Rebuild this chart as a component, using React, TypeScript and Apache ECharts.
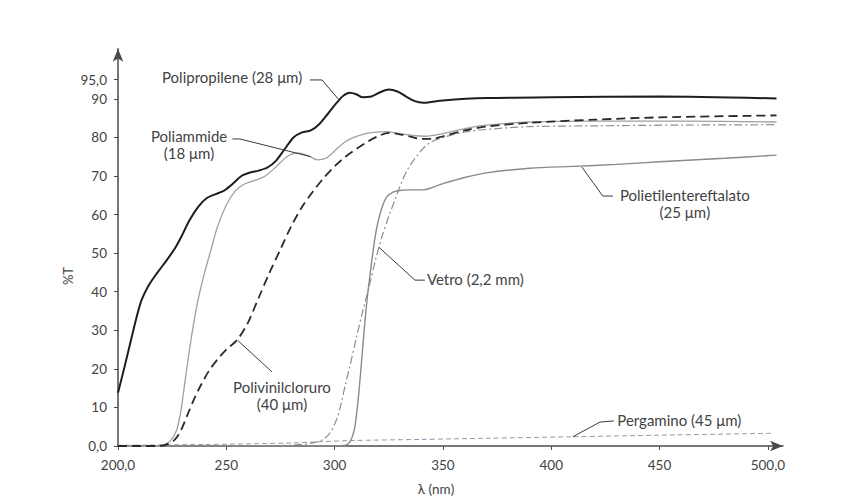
import React, { useEffect, useRef } from 'react';
import * as echarts from 'echarts';

const xTicks = [200, 250, 300, 350, 400, 450, 500];
const yTicks = [0, 10, 20, 30, 40, 50, 60, 70, 80, 90, 95];

const polipropilene = [
  [200, 13.8], [203, 20.5], [206, 27.5], [209, 34.3], [211, 38], [214, 41.5], [218, 44.8], [222, 47.8],
  [226, 51], [229, 54], [233, 58.5], [237, 62], [241, 64.3], [245, 65.3], [249, 66.2], [253, 68],
  [257, 70], [261, 70.9], [265, 71.4], [269, 72.2], [273, 74], [277, 77], [281, 80], [285, 81.3],
  [289, 81.8], [293, 83.5], [297, 86.2], [301, 89], [304, 90.8], [307, 91.6], [310, 91.2], [313, 90.4],
  [317, 90.6], [321, 91.7], [325, 92.4], [329, 91.9], [333, 90.6], [337, 89.4], [341, 89], [350, 89.6],
  [370, 90.2], [400, 90.4], [450, 90.6], [504, 90.1],
];

const poliammide = [
  [200, 0], [218, 0], [221, 0.3], [224, 1.2], [227, 4], [229, 9], [231, 17], [233, 25], [235, 32],
  [237, 38], [240, 45], [243, 51], [246, 57], [250, 62.5], [254, 66], [258, 67.8], [263, 68.8],
  [268, 70], [273, 72.4], [278, 75], [283, 76], [288, 75.2], [292, 74.2], [296, 74.6], [300, 76.5],
  [304, 78.5], [308, 79.8], [313, 80.8], [318, 81.3], [324, 81.5], [330, 81], [336, 80.5], [342, 80.3],
  [350, 81], [360, 82.3], [370, 83.2], [390, 84], [420, 84.2], [460, 84.2], [504, 84],
];

const polivinilcloruro = [
  [200, 0], [218, 0], [222, 0.3], [226, 1.5], [229, 4], [232, 8], [235, 12], [238, 15.5], [242, 19.5],
  [246, 22.5], [250, 25], [255, 27.5], [260, 32], [265, 38.5], [270, 45], [275, 51], [280, 57],
  [285, 62], [290, 66], [295, 69.5], [300, 72.5], [305, 75], [310, 77], [315, 78.8], [320, 80.3],
  [325, 81.2], [330, 80.8], [335, 80.2], [340, 79.6], [345, 79.6], [350, 80.3], [360, 81.8],
  [370, 82.8], [390, 83.8], [420, 84.6], [450, 85.2], [504, 85.7],
];

const vetro = [
  [200, 0], [260, 0], [280, 0.2], [290, 0.8], [295, 1.8], [298, 3.5], [301, 7], [303, 11], [305, 16],
  [307, 20.5], [310, 28], [313, 35], [316, 41.5], [319, 48.5], [322, 54.5], [325, 59.5], [328, 64],
  [331, 68.5], [334, 72], [338, 75.2], [342, 77.8], [346, 79.2], [350, 80], [360, 81.4], [375, 82.3],
  [390, 82.8], [420, 83], [460, 83.2], [504, 83.3],
];

const polietilentereftalato = [
  [200, 0], [300, 0], [305, 0.2], [307, 1], [309, 4], [310.5, 10], [312, 19], [313.5, 29], [315, 38],
  [316.5, 45], [318.5, 53.5], [320, 58], [322, 62], [324, 64.5], [327, 65.8], [331, 66.3], [336, 66.4],
  [341, 66.4], [345, 67], [350, 68], [360, 69.6], [370, 70.8], [390, 72], [410, 72.5], [430, 73],
  [450, 73.7], [480, 74.6], [504, 75.4],
];

const pergamino = [
  [200, 0.2], [240, 0.4], [280, 0.8], [307, 1.4], [340, 1.7], [370, 2.0], [410, 2.4], [450, 2.8], [502, 3.3],
];

const annotations = [
  { text: 'Polipropilene (28 μm)', at: [220.3, 95.7], align: 'left', callout: [[288.6, 94.9], [294.2, 94.9], [302.5, 89.4]] },
  { text: 'Poliammide\n(18 μm)', at: [232.8, 78.1], align: 'center', callout: [[252.8, 79.6], [256.3, 79.6], [289, 75]] },
  { text: 'Polivinilcloruro\n(40 μm)', at: [275.7, 13.1], align: 'center', callout: [[271.1, 19.2], [255.4, 27.3]] },
  { text: 'Vetro (2,2 mm)', at: [342.6, 43.4], align: 'left', callout: [[341.7, 43.0], [337.1, 43.0], [320.5, 51.5]] },
  { text: 'Polietilentereftalato\n(25 μm)', at: [461.7, 62.9], align: 'center', callout: [[414.2, 72.3], [423.8, 64.8], [428.5, 64.8]] },
  { text: 'Pergamino (45 μm)', at: [430.5, 6.7], align: 'left', callout: [[410, 2.4], [422.5, 6.2], [428.9, 6.5]] },
];

const FONT = 'Lato, "Noto Sans", "DejaVu Sans", sans-serif';
const TEXT_COLOR = '#434343';

export default function App() {
  const ref = useRef<HTMLDivElement>(null);
  useEffect(() => {
    const chart = echarts.init(ref.current!, null, { renderer: 'svg' });
    const lineSeries = (name: string, data: number[][], color: string, width: number, type: any, z: number) => ({
      name,
      type: 'line',
      data,
      showSymbol: false,
      smooth: 0.3,
      z,
      lineStyle: { color, width, type },
    });
    chart.setOption({
      animation: false,
      backgroundColor: '#ffffff',
      grid: { left: 118, right: 62, top: 48.7, bottom: 53 },
      xAxis: {
        type: 'value',
        min: 200,
        max: 507,
        axisLine: { show: true, symbol: ['none', 'arrow'], symbolSize: [8, 13], lineStyle: { color: '#4a4a4a', width: 1.5 } },
        axisTick: { show: true, customValues: xTicks, length: 4, lineStyle: { color: '#4a4a4a' } },
        axisLabel: {
          customValues: xTicks,
          margin: 12,
          color: TEXT_COLOR,
          fontSize: 13.5,
          fontFamily: FONT,
          formatter: (v: number) => (v === 200 || v === 500 ? v + ',0' : String(v)),
        },
        splitLine: { show: false },
      },
      yAxis: {
        type: 'value',
        min: 0,
        max: 103,
        axisLine: { show: true, symbol: ['none', 'arrow'], symbolSize: [8, 13], lineStyle: { color: '#4a4a4a', width: 1.5 } },
        axisTick: { show: true, customValues: yTicks, length: 4, lineStyle: { color: '#4a4a4a' } },
        axisLabel: {
          customValues: yTicks,
          margin: 11,
          color: TEXT_COLOR,
          fontSize: 13.5,
          fontFamily: FONT,
          formatter: (v: number) => (v === 0 || v === 95 ? v + ',0' : String(v)),
        },
        splitLine: { show: false },
      },
      series: [
        lineSeries('Pergamino (45 μm)', pergamino, '#9b95ad', 1, [5, 3], 2),
        lineSeries('Vetro (2,2 mm)', vetro, '#8e8e8e', 1.2, [8, 3, 2, 3], 3),
        lineSeries('Polietilentereftalato (25 μm)', polietilentereftalato, '#8a8a8a', 1.4, 'solid', 3),
        lineSeries('Poliammide (18 μm)', poliammide, '#a0a0a0', 1.3, 'solid', 4),
        lineSeries('Polivinilcloruro (40 μm)', polivinilcloruro, '#2a2a2a', 1.8, [9, 5], 5),
        lineSeries('Polipropilene (28 μm)', polipropilene, '#1e1e1e', 2, 'solid', 6),
      ],
    });

    const toPx = (p: number[]) => chart.convertToPixel({ xAxisIndex: 0, yAxisIndex: 0 }, p) as number[];
    const graphic: any[] = [];
    annotations.forEach((a) => {
      graphic.push({
        type: 'polyline',
        silent: true,
        shape: { points: a.callout.map(toPx) },
        style: { stroke: '#3a3a3a', lineWidth: 1, fill: 'none' },
        z: 10,
      });
      const [x, y] = toPx(a.at);
      graphic.push({
        type: 'text',
        x,
        y,
        z: 10,
        style: {
          text: a.text,
          fill: TEXT_COLOR,
          font: `15px ${FONT}`,
          textAlign: a.align,
          textVerticalAlign: 'middle',
          lineHeight: 17,
        },
      });
    });
    graphic.push({
      type: 'text',
      x: 68,
      y: 276,
      rotation: Math.PI / 2,
      style: { text: '%T', fill: TEXT_COLOR, font: `13px ${FONT}`, textAlign: 'center', textVerticalAlign: 'middle' },
    });
    graphic.push({
      type: 'text',
      x: 436,
      y: 489,
      style: { text: 'λ (nm)', fill: TEXT_COLOR, font: `13.5px ${FONT}`, textAlign: 'center', textVerticalAlign: 'middle' },
    });
    chart.setOption({ graphic });
    return () => chart.dispose();
  }, []);
  return <div ref={ref} style={{ position: 'fixed', left: 0, top: 0, width: 845, height: 499 }} />;
}
